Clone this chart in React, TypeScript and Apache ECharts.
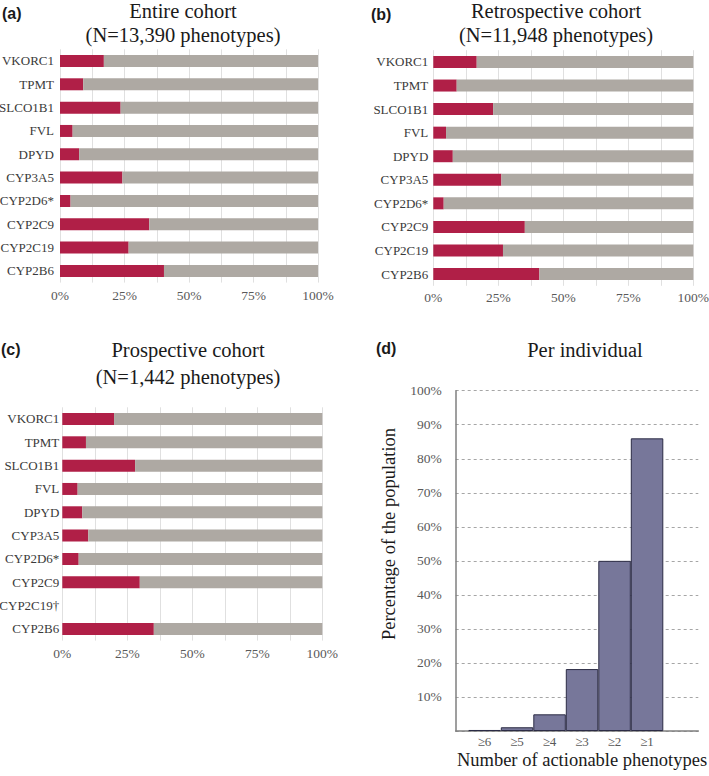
import React, { useEffect, useRef } from "react";
import * as echarts from "echarts";

const genes = ["VKORC1", "TPMT", "SLCO1B1", "FVL", "DPYD", "CYP3A5", "CYP2D6*", "CYP2C9", "CYP2C19", "CYP2B6"];
const genesProspective = ["VKORC1", "TPMT", "SLCO1B1", "FVL", "DPYD", "CYP3A5", "CYP2D6*", "CYP2C9", "CYP2C19†", "CYP2B6"];
const entireActionable = [17, 9, 23.5, 4.9, 7.4, 24.2, 4.1, 34.6, 26.6, 40.3];
const retroActionable = [16.7, 9, 23, 4.9, 7.5, 26.2, 4, 35.2, 26.8, 40.8];
const prospActionable: (number | null)[] = [19.9, 9.1, 28, 5.9, 7.7, 10, 6.3, 29.8, null, 35.2];
const countCategories = ["≥6", "≥5", "≥4", "≥3", "≥2", "≥1"];
const perIndividual = [0.3, 1.1, 4.9, 18.2, 50, 86];
const yTicksPct = [0, 10, 20, 30, 40, 50, 60, 70, 80, 90, 100];

const RED = "#b01f47";
const GREY = "#aea9a3";
const PURPLE = "#77779a";
const SERIF = "'Liberation Serif', serif";
const SANS = "'Liberation Sans', Arial, sans-serif";

type Box = { left: number; top: number; width: number; height: number; labelMargin: number; xMargin: number };

export default function App() {
  const ref = useRef<HTMLDivElement>(null);
  useEffect(() => {
    if (!ref.current) return;
    const chart = echarts.init(ref.current, undefined, { renderer: "svg" });

    const boxes: Box[] = [
      { left: 60, top: 49.3, width: 258, height: 233.3, labelMargin: 6, xMargin: 6 },
      { left: 433.3, top: 50.2, width: 260, height: 235.6, labelMargin: 5, xMargin: 5 },
      { left: 62.3, top: 407.3, width: 260, height: 233.3, labelMargin: 3, xMargin: 6 },
    ];
    const cats = [genes, genes, genesProspective];
    const vals = [entireActionable, retroActionable, prospActionable];

    const grids: any[] = [];
    const xAxes: any[] = [];
    const yAxes: any[] = [];
    const series: any[] = [];

    boxes.forEach((b, i) => {
      grids.push({ left: b.left, top: b.top, width: b.width, height: b.height, containLabel: false, outerBoundsMode: "none" });
      xAxes.push({
        type: "value",
        gridIndex: i,
        min: 0,
        max: 100,
        interval: 12.5,
        axisLine: { show: false },
        axisTick: { show: false },
        splitLine: { show: true, lineStyle: { color: "#e0e0e0", width: 1 } },
        axisLabel: {
          margin: b.xMargin,
          color: "#595959",
          fontFamily: SERIF,
          fontSize: 13.5,
          formatter: (v: number) => (Math.round(v) % 25 === 0 && Math.abs(v - Math.round(v)) < 1e-6 ? v + "%" : ""),
        },
      });
      yAxes.push({
        type: "category",
        gridIndex: i,
        data: cats[i],
        inverse: true,
        axisLine: { show: false },
        axisTick: { show: false },
        axisLabel: { margin: b.labelMargin, color: "#3a3a3a", fontFamily: SERIF, fontSize: 13 },
      });
      const v = vals[i];
      series.push({
        type: "bar",
        xAxisIndex: i,
        yAxisIndex: i,
        stack: "s" + i,
        barWidth: 12,
        itemStyle: { color: RED },
        data: v,
      });
      series.push({
        type: "bar",
        xAxisIndex: i,
        yAxisIndex: i,
        stack: "s" + i,
        barWidth: 12,
        itemStyle: { color: GREY },
        data: v.map((x) => (x == null ? null : 100 - x)),
      });
    });

    // panel d: decoration grid (axes, dashed lines) and bar grid
    grids.push({ left: 455.7, top: 390.7, width: 242.6, height: 340.3, containLabel: false, outerBoundsMode: "none" });
    xAxes.push({
      type: "value",
      gridIndex: 3,
      min: 0,
      max: 1,
      axisLine: { show: true, onZero: false, lineStyle: { color: "#7f7f7f", width: 1.5 } },
      axisTick: { show: false },
      axisLabel: { show: false },
      splitLine: { show: false },
    });
    yAxes.push({
      type: "value",
      gridIndex: 3,
      min: 0,
      max: 100,
      interval: 10,
      axisLine: { show: true, lineStyle: { color: "#7f7f7f", width: 1.5 } },
      axisTick: { show: false },
      splitLine: { show: true, lineStyle: { color: "#a6a6a6", type: [3, 3], width: 1 } },
      axisLabel: {
        margin: 14,
        color: "#595959",
        fontFamily: SERIF,
        fontSize: 13.5,
        formatter: (v: number) => (v === 0 ? "" : v + "%"),
      },
      data: yTicksPct,
    });
    grids.push({ left: 468.3, top: 390.7, width: 195, height: 340.3, containLabel: false, outerBoundsMode: "none" });
    xAxes.push({
      type: "category",
      gridIndex: 4,
      data: countCategories,
      axisLine: { show: false },
      axisTick: { show: false },
      axisLabel: { margin: 4, color: "#595959", fontFamily: SERIF, fontSize: 13 },
    });
    yAxes.push({
      type: "value",
      gridIndex: 4,
      min: 0,
      max: 100,
      show: false,
      splitLine: { show: false },
    });
    series.push({
      type: "bar",
      xAxisIndex: 4,
      yAxisIndex: 4,
      barCategoryGap: 0,
      itemStyle: { color: PURPLE, borderColor: "#2c2c45", borderWidth: 1 },
      data: perIndividual,
    });

    const titleStyle = { fontFamily: SERIF, fontSize: 20.5, fill: "#1a1a1a", align: "center", verticalAlign: "middle" };
    const labelStyle = { fontFamily: SANS, fontSize: 16, fontWeight: "bold", fill: "#1a1a1a", verticalAlign: "middle" };
    const txt = (x: number, y: number, text: string, style: any, extra: any = {}) => ({
      type: "text",
      x,
      y,
      style: { text, ...style },
      ...extra,
    });

    chart.setOption({
      animation: false,
      grid: grids,
      xAxis: xAxes,
      yAxis: yAxes,
      series,
      graphic: [
        txt(2, 13, "(a)", labelStyle),
        txt(183, 11, "Entire cohort", titleStyle),
        txt(183, 35, "(N=13,390 phenotypes)", titleStyle),
        txt(371, 14, "(b)", labelStyle),
        txt(556, 11, "Retrospective cohort", titleStyle),
        txt(556, 35, "(N=11,948 phenotypes)", titleStyle),
        txt(1, 349, "(c)", labelStyle),
        txt(188, 350, "Prospective cohort", titleStyle),
        txt(188, 377, "(N=1,442 phenotypes)", titleStyle),
        txt(376, 348, "(d)", labelStyle),
        txt(585, 350, "Per individual", titleStyle),
        txt(389, 534, "Percentage of the population", { ...titleStyle, fontSize: 18.5 }, { rotation: Math.PI / 2 }),
        txt(582, 760, "Number of actionable phenotypes", { ...titleStyle, fontSize: 18.5 }),
      ],
    });
    return () => chart.dispose();
  }, []);
  return <div ref={ref} style={{ position: "fixed", left: 0, top: 0, width: 709, height: 776, background: "#fff" }} />;
}
